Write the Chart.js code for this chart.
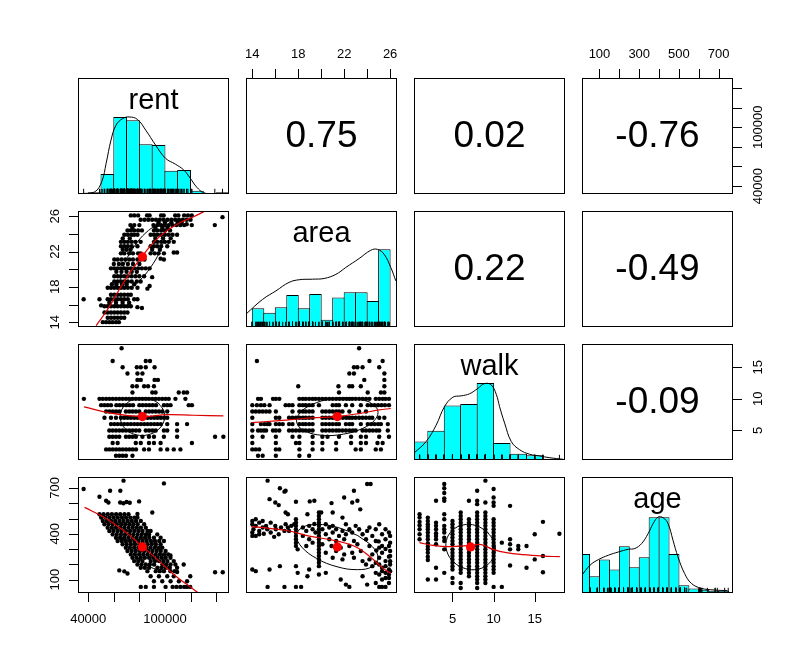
<!DOCTYPE html>
<html>
<head>
<meta charset="utf-8">
<script src="https://cdn.jsdelivr.net/npm/chart.js@4.4.1/dist/chart.umd.min.js"></script>
<style>
  body { margin: 0; background: #fff; width: 812px; height: 672px; overflow: hidden; position: relative; }
  canvas { position: absolute; }
</style>
</head>
<body>
<script>
// ---- axis ticks and limits ----
const rentTicks = [40000, 60000, 80000, 100000, 120000, 140000];
const rentTickLabels = [40000, 100000];
const areaTicks = [14, 16, 18, 20, 22, 24, 26];
const areaTickLabels = [14, 18, 22, 26];
const walkTicks = [5, 10, 15];
const walkTickLabels = [5, 10, 15];
const ageTicks = [100, 200, 300, 400, 500, 600, 700];
const ageTopLabels = [100, 300, 500, 700];
const ageLeftLabels = [100, 400, 700];

const rentLim = [32000, 150100];
const areaLim = [13.45, 26.6];
const walkLim = [0.32, 18.68];
const ageLim = [12, 772];

// ---- correlations (upper panels) ----
const corrRentArea = '0.75', corrRentWalk = '0.02', corrRentAge = '-0.76';
const corrAreaWalk = '0.22', corrAreaAge = '-0.49', corrWalkAge = '-0.09';

// ---- histograms ----
const rentBreaks = [30000, 40000, 50000, 60000, 70000, 80000, 90000, 100000, 110000, 120000, 130000, 140000, 150000];
const rentCounts = [1, 2, 24, 93, 89, 60, 59, 28, 29, 4, 1, 2];
const rentHistTop = 140;
const rentDensX = [33250, 44900, 50600, 54000, 57800, 61700, 66900, 72000, 78500, 85000, 92700, 100500, 108200, 114700, 119800, 125000, 130200, 137900, 150300];
const rentDensY = [0.4, 2.4, 15, 37, 65, 83, 91, 93, 90, 77, 59, 43, 36, 29, 19, 8, 1.6, 0, 0];

const areaBreaks = [14, 15, 16, 17, 18, 19, 20, 21, 22, 23, 24, 25, 26];
const areaCounts = [21, 16, 22, 36, 21, 37, 8, 33, 39, 39, 29, 87];
const areaHistTop = 130;
const areaDensX = [13.45, 14.9, 16.06, 17.2, 18.09, 19.25, 20.26, 21.28, 22.14, 23.3, 24.32, 24.9, 25.48, 26.06, 26.5];
const areaDensY = [14.5, 31, 40.5, 50, 53, 53.6, 54.4, 59, 66.7, 76.7, 86, 87, 81.5, 66.7, 51.7];

const walkBreaks = [0, 2, 4, 6, 8, 10, 12, 14, 16, 18];
const walkCounts = [27, 43, 80, 82, 113, 25, 9, 7, 2];
const walkHistTop = 170;
const walkDensX = [0.29, 1.79, 3.01, 4.02, 5.04, 6.06, 7.07, 8.09, 8.9, 9.72, 10.33, 10.73, 11.34, 12.15, 13.17, 14.39, 15.6, 16.8, 18.45];
const walkDensY = [9.8, 27, 51, 78, 92, 94, 97, 105, 112, 110, 96, 78, 54, 27, 15, 8.4, 5.9, 3.4, 1];

const ageBreaks = [0, 50, 100, 150, 200, 250, 300, 350, 400, 450, 500, 550, 600, 650, 700, 750];
const ageCounts = [35, 15, 30, 21, 42, 23, 32, 68, 68, 35, 7, 4, 3, 2, 2];
const ageHistTop = 104;
const ageDensX = [8, 53, 95, 145, 195, 245, 278, 312, 345, 370, 395, 420, 445, 470, 495, 528, 562, 612, 678, 745];
const ageDensY = [15.2, 25, 30, 33.9, 36.8, 39.2, 39.9, 44.3, 53.3, 62.2, 68.1, 67.5, 62.2, 47.3, 32.4, 17.6, 8.7, 4.2, 2.7, 2.1];

// ---- means ----
const rentMean = 82400, areaMean = 21.4, walkMean = 7.2, ageMean = 314;

// ---- scatter points (lower panels) ----
const rentArea = [
  [73300,26.1],[76000,26.1],[79000,26.1],[86000,26.1],[88000,26.1],[97000,26.1],[99000,26.1],[108000,26.1],[110500,26.1],[115000,26.1],[118000,26.1],[121000,26.1],[145000,25.9],
  [81000,25.6],[84000,25.6],[87000,25.6],[90000,25.6],[93000,25.6],[96000,25.6],[99000,25.6],[102000,25.6],[105000,25.6],[108000,25.6],[111000,25.6],[114000,25.6],[117000,25.6],[120000,25.6],
  [95000,25.3],[100000,25.3],[105000,25.3],[110000,25.3],[113000,25.3],
  [73000,25],[76000,25],[80000,25],[91000,25],[94000,25],[97000,25],[100000,25],[103000,25],[106000,25],[109000,25],[112000,25],[115000,25],[117000,25.1],[121000,25],[139000,25],
  [74500,24.7],[92500,24.7],[98000,24.7],[102000,24.7],
  [70700,24.4],[73300,24.4],[76000,24.4],[79000,24.4],[82000,24.4],[91400,24.4],[94000,24.4],[97000,24.4],[100000,24.4],[104000,24.4],
  [68200,23.9],[71000,23.9],[74000,23.9],[76000,23.9],[78500,23.9],[88800,23.9],[91400,23.9],[94000,23.9],[97000,23.9],[100000,23.9],[103000,23.9],[106000,23.9],[109500,23.9],
  [67000,23.5],[72500,23.5],[92500,23.5],[98500,23.5],[104500,23.5],
  [65600,23.1],[68200,23.1],[71000,23.1],[74000,23.1],[77000,23.1],[81000,23.1],[91400,23.1],[94000,23.1],[97000,23.1],[100000,23.1],[103000,23.1],[106900,23.1],
  [65600,22.6],[68200,22.6],[71000,22.6],[74000,22.6],[78500,22.6],[88800,22.6],[91400,22.6],[94000,22.6],[97000,22.6],[101800,22.6],
  [67000,22.2],[70000,22.2],[73000,22.2],[90000,22.2],[96000,22.2],
  [65600,21.8],[68200,21.8],[72000,21.8],[75000,21.8],[79000,21.8],[81000,21.8],[88800,21.8],[92000,21.8],[95000,21.8],[99200,21.8],[106900,21.9],[109500,21.9],
  [60400,21.1],[63000,21.1],[66000,21.1],[69000,21.1],[72000,21.1],[75000,21.1],[78500,21.1],[81000,21.1],[84000,21.1],[96600,21.2],[99200,21.1],
  [60000,20.6],[64000,20.6],[67000,20.6],[71000,20.6],[75000,20.6],[80000,20.6],
  [57800,20.1],[60400,20.1],[63000,20.1],[65600,20.1],[68200,20.1],[70700,20.1],[73300,20.1],[76000,20.1],[79000,20.1],[82000,20.1],[85000,20.1],[88000,20.1],
  [62000,19.7],[66000,19.7],[70000,19.7],[74000,19.7],[78000,19.7],
  [60400,19.2],[63000,19.2],[65600,19.2],[68200,19.2],[71000,19.2],[74000,19.2],[77000,19.2],[80000,19.2],[83700,19.2],[90000,19.1],
  [60400,18.6],[63000,18.6],[65600,18.6],[68200,18.6],[71000,18.6],[74000,18.6],[78000,18.6],[81000,18.6],
  [58500,18.3],[62000,18.3],[66500,18.3],[70000,18.3],[76000,18.3],
  [55200,17.9],[57800,17.9],[60400,17.9],[63000,17.9],[65600,17.9],[68200,17.9],[71000,17.9],[74000,17.9],[78500,17.9],[86300,17.8],[88000,18.1],
  [57800,17.1],[60400,17.1],[63000,17.1],[65600,17.1],[68200,17.1],[71000,17.1],[73300,17.1],
  [36400,16.6],[48800,16.6],[55200,16.6],[57800,16.6],[60400,16.6],[63000,16.6],[65600,16.6],[68200,16.6],[71000,16.6],[75900,16.6],[78500,16.6],
  [56500,16.2],[61700,16.2],[66900,16.2],[72000,16.2],
  [50100,15.9],[52700,15.8],[55200,15.8],[57800,15.8],[60400,15.8],[63000,15.8],[65600,15.8],[68200,15.8],[70700,15.8],[73300,15.8],[78500,15.7],[82000,15.6],
  [52700,15.1],[55200,15.1],[57800,15.1],[60400,15.1],[63000,15.1],[65600,15.1],[68200,15.1],[70700,15.1],
  [55200,14.5],[57800,14.5],[60400,14.5],[63000,14.5],[65600,14.5],[68200,14.5],
  [51400,14],[54000,14],[56500,14],[59000,14],[61700,14],[64000,14]
];

const rentWalk = [
  [66100,18],
  [59100,16],[85000,16],[88300,16],
  [66900,15],[78000,15],[81100,15],[85000,15],[91900,15],
  [70700,14],[78500,14],[82400,14],
  [78500,13],[81100,13],[91900,13],[94500,13],
  [74600,12],[78000,12],[83700,12],[86800,12],[91400,12],
  [74600,11],[90100,11],[92700,11],[110800,11],[114700,11],[117300,11],
  [36600,10],[48800,10],[51400,10],[54000,10],[56500,10],[59100,10],[61700,10],[64300,10],[66900,10],[69500,10],[72000,10],[74600,10],[77200,10],[79800,10],[82400,10],[85000,10],[87500,10],[90100,10],[92700,10],[95300,10],[97900,10],[100500,10],[103000,10],[108200,10],[116000,10],
  [50100,9],[52700,9],[55200,9],[57800,9],[62000,9],[64600,9],[67200,9],[69800,9],[72400,9],[75000,9],[80000,9],[82600,9],[85200,9],[87800,9],[90400,9],[93000,9],[99200,9],[101800,9],[104400,9],[118600,9],[121100,9],
  [54000,8],[56600,8],[59200,8],[61800,8],[64400,8],[69500,8],[72100,8],[74700,8],[77300,8],[79900,8],[85000,8],[87600,8],[90200,8],[92800,8],[95400,8],[98000,8],[101800,8],
  [52700,7],[57800,7],[61700,7],[65600,7],[68200,7],[70800,7],[73400,7],[76000,7],[78600,7],[81200,7],[83800,7],[86400,7],[89000,7],[91600,7],[94200,7],[96800,7],[99400,7],[101800,7],
  [57800,6],[60400,6],[63000,6],[65600,6],[68200,6],[70800,6],[73400,6],[76000,6],[78600,6],[81200,6],[83800,6],[86400,6],[89000,6],[91600,6],[94200,6],[96800,6],[101800,6],[109500,6],[117300,6],
  [56500,5],[59100,5],[61700,5],[64300,5],[66900,5],[69500,5],[72100,5],[74700,5],[77300,5],[79900,5],[85000,5],[87600,5],[90200,5],[92800,5],[99200,5],[101800,5],[109500,5],
  [56500,4],[59100,4],[61700,4],[64300,4],[69500,4],[72100,4],[74700,4],[77300,4],[82400,4],[87500,4],[91400,4],[99200,4],[109500,4],[139200,4],[145700,4],
  [59100,3],[63000,3],[77200,3],[81100,3],[87500,3],[91400,3],[96600,3],[121100,3],
  [54000,2],[56600,2],[59200,2],[61800,2],[64400,2],[67000,2],[69600,2],[72200,2],[74800,2],[77400,2],[83700,2],[87500,2],[96600,2],[101800,2],[106900,2],[112100,2],
  [61700,1],[64300,1],[66900,1],[69500,1],[74600,1]
];

const areaWalk = [
  [23.3,18],
  [14.4,16],[24.2,16],[25.35,16],
  [22.85,15],[23.15,15],[23.6,15],[25.05,15],
  [22.45,14],[22.85,14],[25.5,14],
  [23.75,13],[25.5,13],
  [18.0,12],[21.5,12],[22.45,12],[22.7,12],[23.45,12],[25.5,12],
  [21.55,11],[24.05,11],[25.2,11],[25.5,11],
  [14.5,10],[14.75,10],[15.8,10],[16.05,10],[16.35,10],[18.1,10],[18.4,10],[18.65,10],[18.95,10],[19.25,10],[19.5,10],[19.8,10],[20.1,10],[20.4,10],[20.7,10],[21.0,10],[21.3,10],[21.6,10],[21.9,10],[22.2,10],[22.45,10],[22.7,10],[23.0,10],[23.3,10],[23.6,10],[23.9,10],[24.2,10],[24.75,10],[25.05,10],[25.35,10],[25.6,10],[25.9,10],
  [14.0,9],[14.4,9],[14.75,9],[15.05,9],[15.5,9],[16.9,9],[17.2,9],[17.5,9],[18.1,9],[18.4,9],[18.65,9],[18.95,9],[19.25,9],[19.8,9],[21.0,9],[21.3,9],[21.55,9],[22.15,9],[22.7,9],[23.45,9],[24.05,9],[24.35,9],[24.65,9],[24.95,9],[25.25,9],[25.55,9],[25.9,9],
  [14.0,8],[14.3,8],[14.6,8],[14.9,8],[15.2,8],[15.5,8],[16.05,8],[17.5,8],[18.1,8],[18.4,8],[18.65,8],[18.95,8],[19.25,8],[20.1,8],[20.4,8],[20.7,8],[21.0,8],[21.3,8],[21.55,8],[21.85,8],[22.45,8],[23.3,8],[23.9,8],
  [14.0,7],[16.05,7],[16.35,7],[17.2,7],[17.5,7],[17.8,7],[18.1,7],[18.4,7],[18.65,7],[18.95,7],[19.25,7],[20.1,7],[20.4,7],[20.7,7],[21.0,7],[21.3,7],[21.6,7],[21.9,7],[22.2,7],[22.45,7],[22.7,7],[23.0,7],[23.3,7],[23.6,7],[23.9,7],[24.2,7],[24.45,7],[25.05,7],[25.5,7],
  [14.0,6],[14.75,6],[15.05,6],[15.3,6],[15.5,6],[16.05,6],[16.35,6],[16.65,6],[17.2,6],[17.5,6],[18.1,6],[18.4,6],[18.65,6],[18.95,6],[19.25,6],[20.1,6],[20.4,6],[20.7,6],[21.0,6],[21.3,6],[21.55,6],[22.15,6],[22.45,6],[22.7,6],[23.45,6],[24.05,6],[24.35,6],[24.65,6],[24.95,6],[25.2,6],[25.8,6],
  [14.0,5],[14.5,5],[14.75,5],[15.0,5],[15.2,5],[15.8,5],[16.05,5],[16.35,5],[17.2,5],[17.5,5],[17.8,5],[18.1,5],[18.4,5],[18.65,5],[18.95,5],[19.25,5],[20.1,5],[20.4,5],[20.7,5],[21.0,5],[21.3,5],[21.55,5],[21.85,5],[22.15,5],[22.45,5],[22.75,5],[23.0,5],[23.6,5],[23.9,5],[24.2,5],[24.5,5],[24.8,5],[25.05,5],[25.8,5],
  [14.0,4],[14.9,4],[16.05,4],[17.5,4],[18.1,4],[19.25,4],[20.1,4],[20.55,4],[21.55,4],[22.6,4],[23.45,4],[23.9,4],[25.05,4],[25.9,4],
  [14.0,3],[16.05,3],[17.8,3],[18.1,3],[19.25,3],[20.1,3],[21.3,3],[22.6,3],[23.45,3],[23.9,3],[24.9,3],[25.35,3],
  [14.0,2],[14.3,2],[14.6,2],[16.05,2],[16.35,2],[18.1,2],[19.25,2],[20.1,2],[21.3,2],[23.0,2],[23.45,2],[24.75,2],[25.2,2],
  [14.5,1],[14.9,1],[16.05,1],[18.1,1],[18.95,1]
];

const rentAge = [
  [36400,693],[67600,748],[99200,730],[48800,643],[57100,682],[65100,682],[54000,616],[55800,605],[65000,605],[67500,600],[70000,608],[72500,603],[79800,612],[90100,539],
  [48800,528],[52000,528],[55300,528],[58500,528],[61800,528],[65000,528],[68300,528],[71500,528],[78500,530],
  [50100,506],[53400,506],[56600,506],[59900,506],[63100,506],[66400,506],[69600,506],[72900,506],[76100,506],[78500,506],
  [51400,484],[54600,484],[57900,484],[61100,484],[64400,484],[67600,484],[70900,484],[74100,484],[77400,484],[81100,484],
  [52700,462],[55900,462],[59200,462],[62400,462],[65700,462],[68900,462],[72200,462],[75400,462],[78700,462],[83700,462],
  [55200,440],[58500,440],[61700,440],[65000,440],[68200,440],[71500,440],[74700,440],[78000,440],[81200,440],[85000,440],
  [56500,418],[59700,418],[63000,418],[66200,418],[69500,418],[72700,418],[76000,418],[79200,418],[82500,418],[86300,418],[88800,418],
  [59100,396],[62300,396],[65600,396],[68800,396],[72100,396],[75300,396],[78600,396],[81800,396],[85100,396],[87600,396],[94000,396],
  [61700,374],[64900,374],[68200,374],[71400,374],[74700,374],[77900,374],[81200,374],[84400,374],[87700,374],[91400,374],[96600,374],
  [63000,353],[66200,353],[69500,353],[72700,353],[76000,353],[79200,353],[82500,353],[85700,353],[89000,353],[92200,353],[95500,353],[99200,353],
  [66900,331],[70100,331],[73400,331],[76600,331],[79900,331],[83100,331],[86400,331],[89600,331],[92900,331],[96600,331],
  [69400,309],[72600,309],[75900,309],[79100,309],[85600,309],[88800,309],[92100,309],[95300,309],[97900,309],
  [70700,287],[74000,287],[77200,287],[80500,287],[83700,287],[87000,287],[90200,287],[93500,287],[96700,287],[100500,287],
  [73300,265],[76500,265],[79800,265],[83000,265],[86300,265],[89500,265],[92800,265],[96000,265],[99300,265],[102500,265],[104300,258],
  [74600,243],[77800,243],[81100,243],[84300,243],[87600,243],[90800,243],[94100,243],[97300,243],[100600,243],[104300,243],
  [75900,221],[79100,221],[82400,221],[88900,221],[92200,221],[95400,221],[98700,221],[101900,221],[106900,221],
  [78500,199],[81700,199],[85000,199],[88200,199],[91500,199],[98000,199],[101200,199],[104400,199],[108200,199],[114700,199],
  [81100,177],[84300,177],[87600,177],[94100,177],[97300,177],[100600,177],[103800,177],[109500,177],
  [64300,160],[68200,154],[70700,140],[86300,155],[92800,155],[96000,155],[99200,155],[104300,155],[107500,155],[109500,150],[139200,148],[145200,148],
  [88800,122],[95300,122],[101800,122],[106900,122],[119800,122],
  [91400,89],[97900,89],[104400,89],[110900,89],[117300,89],
  [81100,52],[85000,52],[91400,52],[100500,52],[106000,52],[109000,52],[112000,52],[115000,52],[117300,52],[119800,52]
];

const areaAge = [
  [15.33,748],[16.4,698],[16.8,676],[16.9,682],[15.5,627],[16.0,605],[16.3,588],[17.8,610],[19.0,612],[19.4,616],[20.9,601],[22.0,638],[22.85,682],[22.7,605],[23.15,616],[24.0,726],[24.3,726],
  [16.9,539],[17.1,528],[18.8,528],[20.0,539],[21.0,539],[21.85,506],[23.4,560],
  [14.0,484],[14.0,462],[14.1,430],[14.3,495],[14.3,452],[14.6,473],[14.6,419],[14.9,484],[14.0,408],[14.3,386],[14.9,441],[14.0,386],[14.6,397],
  [15.2,452],[15.6,473],[15.3,430],[16.05,430],[16.0,452],[16.5,441],[16.8,419],[16.9,462],[17.1,441],[15.6,408],[16.3,397],[17.2,419],[15.0,400],[15.9,380],[17.4,452],
  [17.8,495],[17.8,473],[17.8,452],[17.8,430],[17.8,408],[17.8,386],[17.8,364],[17.8,342],[17.8,320],[17.95,298],[17.65,462],
  [18.4,441],[18.7,419],[18.95,452],[19.25,430],[19.5,408],[18.4,386],[18.95,364],[19.25,342],[18.7,320],[19.4,464],
  [19.8,539],[19.8,517],[19.8,495],[19.8,473],[19.8,452],[19.8,430],[19.8,408],[19.8,386],[19.8,364],[19.8,342],[19.8,320],[19.8,298],[19.8,276],[19.8,254],[19.8,232],[19.8,210],[19.8,188],
  [20.4,462],[21.0,452],[22.15,462],[23.0,452],[24.2,441],[25.05,462],
  [20.1,430],[20.7,441],[21.3,430],[21.85,419],[22.45,430],[23.3,430],[24.0,419],[24.75,430],[25.6,430],[25.9,408],
  [20.4,397],[21.0,408],[21.55,386],[22.15,397],[22.7,408],[23.6,397],[24.45,386],[25.3,397],[26.0,386],
  [20.7,364],[21.3,353],[22.0,364],[22.85,353],[23.9,364],[24.75,353],[25.6,364],[26.0,342],[25.0,350],
  [20.1,331],[20.9,320],[21.7,309],[22.45,320],[23.15,331],[24.2,320],[25.05,309],[25.9,320],[25.3,320],
  [20.4,276],[21.3,287],[22.0,265],[22.7,276],[23.45,287],[24.45,265],[25.3,276],[26.0,287],[25.6,300],[24.8,290],
  [21.0,243],[21.85,232],[22.85,243],[23.6,221],[24.2,232],[25.05,243],[25.6,221],[26.0,254],[25.9,250],[26.0,220],
  [23.9,199],[24.45,188],[25.05,199],[25.3,177],[25.6,188],[25.9,166],[26.0,199],[24.75,210],
  [25.3,155],[25.6,144],[25.9,133],[26.0,155],[25.05,133],[24.75,144],[25.6,110],[25.9,110],[25.3,100],
  [14.0,166],[14.3,155],[15.5,166],[16.4,188],[17.8,188],[17.95,144],[18.8,122],[18.95,166],[19.8,133],[20.4,144],[21.7,100],[22.15,67],[22.45,52],[23.6,122],[24.0,67],[24.75,78],[25.05,52],[25.3,52],[25.6,52],[25.9,78],[15.33,52],[16.8,52],[17.8,52],[18.25,52]
];

const walkAge = [
  [1,528],[1,506],[1,478],[1,456],[1,430],[1,397],[1,364],
  [2,506],[2,484],[2,462],[2,446],[2,430],[2,408],[2,386],[2,364],[2,338],[2,316],[2,298],[2,276],[2,250],[2,228],[2,100],
  [3,616],[3,473],[3,452],[3,430],[3,403],[3,386],[3,364],[3,331],[3,177],[3,100],
  [4,726],[4,698],[4,667],[4,632],[4,616],[4,528],[4,495],[4,452],[4,430],[4,408],[4,375],[4,353],[4,298],[4,144],
  [5,484],[5,462],[5,441],[5,419],[5,397],[5,375],[5,353],[5,331],[5,298],[5,276],[5,254],[5,232],[5,210],[5,188],[5,166],[5,111],[5,78],
  [6,539],[6,517],[6,495],[6,473],[6,452],[6,430],[6,408],[6,386],[6,364],[6,342],[6,320],[6,298],[6,276],[6,254],[6,232],[6,210],[6,188],[6,166],[6,144],[6,78],[6,45],
  [7,616],[7,495],[7,473],[7,452],[7,430],[7,408],[7,386],[7,364],[7,342],[7,320],[7,298],[7,276],[7,254],[7,232],[7,210],[7,188],[7,166],[7,144],[7,122],
  [8,682],[8,616],[8,594],[8,539],[8,517],[8,495],[8,473],[8,452],[8,430],[8,408],[8,386],[8,364],[8,342],[8,320],[8,298],[8,276],[8,254],[8,232],[8,210],[8,188],[8,166],[8,144],[8,122],[8,100],[8,78],[8,45],
  [9,748],[9,605],[9,539],[9,517],[9,495],[9,473],[9,452],[9,430],[9,408],[9,386],[9,364],[9,342],[9,320],[9,298],[9,276],[9,254],[9,232],[9,210],[9,188],[9,166],[9,144],[9,122],[9,100],[9,78],
  [10,693],[10,638],[10,605],[10,583],[10,495],[10,473],[10,452],[10,430],[10,408],[10,386],[10,364],[10,342],[10,320],[10,298],[10,276],[10,254],[10,232],[10,210],[10,188],[10,166],[10,144],[10,52],
  [11,342],[11,52],
  [12,583],[12,364],[12,331],[12,298],[12,192],
  [13,320],[13,298],
  [14,320],[14,177],
  [15,397],[15,232],
  [16,478],[16,254],[16,148],
  [18,400]
];

// ---- smoothers (red) ----
const rentAreaFit = [[46200,13.6],[55200,15.46],[64300,17.7],[73300,19.76],[82400,21.5],[91400,23.1],[101800,24.4],[112100,25.3],[122400,25.95],[131500,26.6]];
const rentWalkFit = [[36700,8.73],[57800,7.73],[82400,7.19],[101800,7.51],[122400,7.4],[145700,7.3]];
const areaWalkFit = [[13.97,6.24],[16.06,6.51],[17.8,6.77],[19.25,6.98],[21.36,7.19],[23.3,7.67],[25.04,8.25],[26.06,8.47]];
const rentAgeFit = [[37100,573],[52600,507],[68100,418],[82400,316],[94000,232],[106900,133],[117300,67],[126300,12]];
const areaAgeFit = [[13.89,447],[15.48,436],[17.22,418],[18.96,385],[21.42,352],[23.16,309],[24.46,236],[25.33,177],[26.06,140]];
const walkAgeFit = [[0.98,342],[2.6,324],[4.63,316],[7.28,324],[8.5,329],[9.92,298],[11.55,276],[13.58,263],[16.0,254],[18.05,250]];

// ---- correlation ellipses ----
const rentAreaEll = [[98700,24.72],[93400,24.9],[85200,24.15],[76300,22.65],[68900,20.82],[65200,19.15],[66100,18.08],[71400,17.9],[79600,18.65],[88500,20.15],[95900,21.98],[99600,23.65]];
const rentWalkEll = [[94800,9.34],[87100,10.1],[78100,10.09],[70200,9.3],[65600,7.95],[65600,6.4],[70000,5.06],[77700,4.3],[86700,4.31],[94600,5.1],[99200,6.45],[99200,8.0]];
const areaWalkEll = [[24.17,9.54],[22.69,10.17],[20.87,9.99],[19.18,9.08],[18.09,7.65],[17.89,6.11],[18.63,4.86],[20.11,4.23],[21.93,4.41],[23.62,5.33],[24.71,6.75],[24.91,8.29]];
const rentAgeEll = [[88400,364],[79500,427],[71300,459],[66100,452],[65200,408],[69000,338],[76400,262],[85300,199],[93500,167],[98700,174],[99600,218],[95800,288]];
const areaAgeEll = [[23.19,388],[21.42,442],[19.64,461],[18.34,441],[17.85,386],[18.32,312],[19.61,238],[21.38,184],[23.16,165],[24.46,185],[24.95,240],[24.48,314]];
const walkAgeEll = [[9.23,413],[7.85,454],[6.29,458],[4.99,422],[4.27,358],[4.34,281],[5.18,213],[6.56,172],[8.11,168],[9.41,204],[10.13,268],[10.06,345]];

// ---- layout ----
const M = 45, PW = 151, PH = 116;
const FONT = '"Liberation Sans", Arial, Helvetica, sans-serif';

function addCanvas(row, col) {
  const c = document.createElement('canvas');
  c.width = PW + 2 * M;
  c.height = PH + 2 * M;
  c.style.left = (78 + 168 * col - M) + 'px';
  c.style.top = (78 + 133 * row - M) + 'px';
  document.body.appendChild(c);
  return c;
}

function drawAxis(chart, ax) {
  const ctx = chart.ctx, a = chart.chartArea;
  const horiz = ax.side === 'top' || ax.side === 'bottom';
  const scale = horiz ? chart.scales.x : chart.scales.y;
  ctx.beginPath();
  ax.ticks.forEach(v => {
    const p = Math.round(scale.getPixelForValue(v)) + 0.5;
    if (ax.side === 'top') { ctx.moveTo(p, a.top); ctx.lineTo(p, a.top - 9); }
    if (ax.side === 'bottom') { ctx.moveTo(p, a.bottom); ctx.lineTo(p, a.bottom + 9); }
    if (ax.side === 'left') { ctx.moveTo(a.left, p); ctx.lineTo(a.left - 9, p); }
    if (ax.side === 'right') { ctx.moveTo(a.right, p); ctx.lineTo(a.right + 9, p); }
  });
  ctx.stroke();
  ctx.font = '13px ' + FONT;
  ctx.textAlign = 'center';
  ctx.textBaseline = 'middle';
  ax.labels.forEach(v => {
    const p = scale.getPixelForValue(v);
    if (ax.side === 'top') ctx.fillText(String(v), p, a.top - 24);
    else if (ax.side === 'bottom') ctx.fillText(String(v), p, a.bottom + 26);
    else {
      ctx.save();
      ctx.translate(ax.side === 'left' ? a.left - 23 : a.right + 25, p);
      ctx.rotate(-Math.PI / 2);
      ctx.fillText(String(v), 0, 0);
      ctx.restore();
    }
  });
}

function panelPlugin(cfg) {
  return {
    id: 'pairsPanel',
    afterDatasetsDraw(chart) {
      const ctx = chart.ctx, a = chart.chartArea;
      ctx.save();
      ctx.strokeStyle = '#000';
      ctx.fillStyle = '#000';
      ctx.lineWidth = 1;
      ctx.strokeRect(a.left + 0.5, a.top + 0.5, a.right - a.left - 1, a.bottom - a.top - 1);
      (cfg.axes || []).forEach(ax => drawAxis(chart, ax));
      ctx.textAlign = 'center';
      if (cfg.label) {
        ctx.font = '29px ' + FONT;
        ctx.textBaseline = 'alphabetic';
        ctx.fillText(cfg.label, (a.left + a.right) / 2, a.top + 31);
      }
      if (cfg.corr) {
        ctx.font = '37px ' + FONT;
        ctx.textBaseline = 'middle';
        ctx.fillText(cfg.corr, (a.left + a.right) / 2, (a.top + a.bottom) / 2 + 1);
      }
      ctx.restore();
    }
  };
}

function baseOptions(xLim, yLim) {
  return {
    responsive: false,
    animation: false,
    events: [],
    layout: { padding: M },
    plugins: { legend: { display: false }, tooltip: { enabled: false } },
    scales: {
      x: { type: 'linear', display: false, min: xLim[0], max: xLim[1], offset: false,
           afterBuildTicks: s => { s.ticks = [{ value: s.min }]; } },
      y: { type: 'linear', display: false, min: yLim[0], max: yLim[1] }
    }
  };
}

const xy = p => ({ x: p[0], y: p[1] });

function scatterPanel(row, col, pts, fit, ell, mean, xLim, yLim, axes) {
  const ring = ell.map(xy);
  ring.push(ring[0]);
  new Chart(addCanvas(row, col), {
    type: 'scatter',
    data: { datasets: [
      { data: [xy(mean)], pointRadius: 4.6, pointBackgroundColor: '#ff0000', pointBorderWidth: 0 },
      { type: 'line', data: fit.map(xy), borderColor: '#dd0000', borderWidth: 1.2, pointRadius: 0, tension: 0.4, fill: false, clip: 0 },
      { type: 'line', data: ring, borderColor: '#000', borderWidth: 1, pointRadius: 0, tension: 0.4, fill: false, clip: 0 },
      { data: pts.map(xy), pointRadius: 2.2, pointBackgroundColor: '#000', pointBorderWidth: 0 }
    ] },
    options: baseOptions(xLim, yLim),
    plugins: [panelPlugin({ axes })]
  });
}

function histPanel(i, name, breaks, counts, densX, densY, rug, xLim, top) {
  const bars = counts.map((c, k) => ({ x: (breaks[k] + breaks[k + 1]) / 2, y: c }));
  const binPx = PW * (breaks[1] - breaks[0]) / (xLim[1] - xLim[0]);
  const rugY = top * 2.6 / PH;
  new Chart(addCanvas(i, i), {
    type: 'bar',
    data: { datasets: [
      { type: 'line', data: densX.map((x, k) => ({ x, y: densY[k] })), borderColor: '#000', borderWidth: 1, pointRadius: 0, tension: 0.4, fill: false, clip: 0 },
      { type: 'scatter', data: rug.map(x => ({ x, y: rugY })), pointStyle: 'line', pointRotation: 90, pointRadius: 2.6, pointBorderColor: '#000', pointBorderWidth: 1, clip: 0 },
      { type: 'bar', data: bars, backgroundColor: '#00ffff', borderColor: '#000', borderWidth: 1, borderSkipped: false,
        barPercentage: 1 + 1 / binPx, categoryPercentage: 1, clip: 0 }
    ] },
    options: baseOptions(xLim, [0, top]),
    plugins: [panelPlugin({ label: name })]
  });
}

function corrPanel(row, col, text, xLim, yLim, axes) {
  new Chart(addCanvas(row, col), {
    type: 'scatter',
    data: { datasets: [] },
    options: baseOptions(xLim, yLim),
    plugins: [panelPlugin({ corr: text, axes })]
  });
}

const rentRug = rentArea.map(p => p[0]);
const areaRug = areaWalk.map(p => p[0]);
const walkRug = rentWalk.map(p => p[1]);
const ageRug = rentAge.map(p => p[1]);

// diagonal
histPanel(0, 'rent', rentBreaks, rentCounts, rentDensX, rentDensY, rentRug, rentLim, rentHistTop);
histPanel(1, 'area', areaBreaks, areaCounts, areaDensX, areaDensY, areaRug, areaLim, areaHistTop);
histPanel(2, 'walk', walkBreaks, walkCounts, walkDensX, walkDensY, walkRug, walkLim, walkHistTop);
histPanel(3, 'age', ageBreaks, ageCounts, ageDensX, ageDensY, ageRug, ageLim, ageHistTop);

// upper
corrPanel(0, 1, corrRentArea, areaLim, rentLim, [{ side: 'top', ticks: areaTicks, labels: areaTickLabels }]);
corrPanel(0, 2, corrRentWalk, walkLim, rentLim, []);
corrPanel(0, 3, corrRentAge, ageLim, rentLim, [
  { side: 'top', ticks: ageTicks, labels: ageTopLabels },
  { side: 'right', ticks: rentTicks, labels: rentTickLabels }
]);
corrPanel(1, 2, corrAreaWalk, walkLim, areaLim, []);
corrPanel(1, 3, corrAreaAge, ageLim, areaLim, []);
corrPanel(2, 3, corrWalkAge, ageLim, walkLim, [{ side: 'right', ticks: walkTicks, labels: walkTickLabels }]);

// lower
scatterPanel(1, 0, rentArea, rentAreaFit, rentAreaEll, [rentMean, areaMean], rentLim, areaLim,
  [{ side: 'left', ticks: areaTicks, labels: areaTickLabels }]);
scatterPanel(2, 0, rentWalk, rentWalkFit, rentWalkEll, [rentMean, walkMean], rentLim, walkLim, []);
scatterPanel(2, 1, areaWalk, areaWalkFit, areaWalkEll, [areaMean, walkMean], areaLim, walkLim, []);
scatterPanel(3, 0, rentAge, rentAgeFit, rentAgeEll, [rentMean, ageMean], rentLim, ageLim, [
  { side: 'left', ticks: ageTicks, labels: ageLeftLabels },
  { side: 'bottom', ticks: rentTicks, labels: rentTickLabels }
]);
scatterPanel(3, 1, areaAge, areaAgeFit, areaAgeEll, [areaMean, ageMean], areaLim, ageLim, []);
scatterPanel(3, 2, walkAge, walkAgeFit, walkAgeEll, [walkMean, ageMean], walkLim, ageLim,
  [{ side: 'bottom', ticks: walkTicks, labels: walkTickLabels }]);
</script>
</body>
</html>
